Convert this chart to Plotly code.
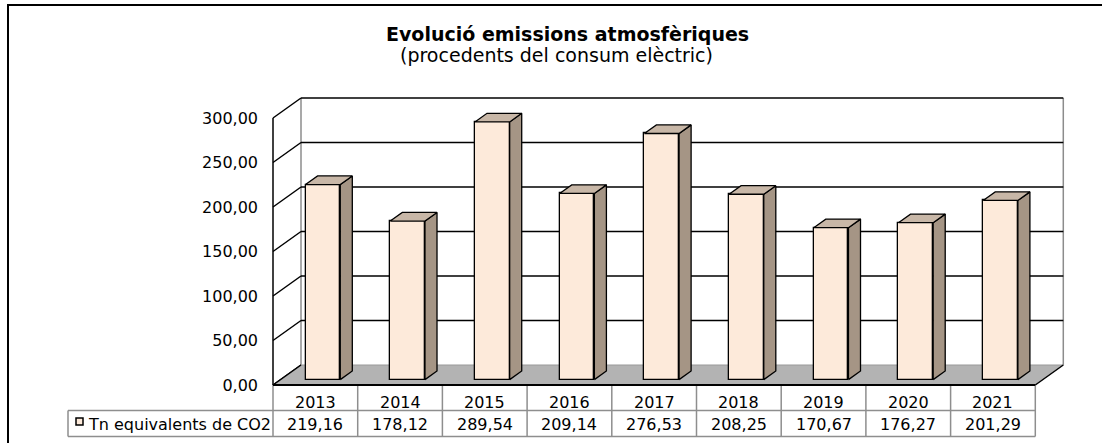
import plotly.graph_objects as go

# ---------------- data ----------------
YEARS = ["2013", "2014", "2015", "2016", "2017", "2018", "2019", "2020", "2021"]
EMISSIONS = [219.16, 178.12, 289.54, 209.14, 276.53, 208.25, 170.67, 176.27, 201.29]
SERIES_NAME = "Tn equivalents de CO2"
Y_TICKS = [0, 50, 100, 150, 200, 250, 300]
TITLE = "Evolució emissions atmosfèriques"
SUBTITLE = "(procedents del consum elèctric)"

# ---------------- geometry / style ----------------
W, H = 1102, 443
PX_CAT = 84.7          # pixels per category
PX_UNIT = 0.89         # pixels per value unit
FRONT_LEFT_PX = 273    # pixel x of left front edge
FLOOR_PX = 385         # pixel y of value 0 on the front plane
PLOT_L, PLOT_R, PLOT_T, PLOT_B = 60, 1070, 90, 441
DX = 28 / PX_CAT       # depth offset (categories)
DY = 20 / PX_UNIT      # depth offset (value units)
F0, F1 = 0.27, 0.70    # bar depth fractions
BAR_W = 0.41
FONT = "DejaVu Sans"
FS = 16

FACE = "#FDEADA"
TOP = "#C8B7A7"
SIDE = "#A59585"
FLOOR = "#B3B3B3"
GRID = "#000000"
TABLE_LINE = "#8E8E8E"

n = len(YEARS)
XL, XR = -0.5, n - 0.5
YTOP = max(Y_TICKS)

x_min = XL - (FRONT_LEFT_PX - PLOT_L) / PX_CAT
x_max = XL + (PLOT_R - FRONT_LEFT_PX) / PX_CAT
y_min = -(PLOT_B - FLOOR_PX) / PX_UNIT
y_max = (FLOOR_PX - PLOT_T) / PX_UNIT


def px_x(px):
    return XL + (px - FRONT_LEFT_PX) / PX_CAT


def px_y(py):
    return (FLOOR_PX - py) / PX_UNIT


def paper_x(px):
    return (px - PLOT_L) / (PLOT_R - PLOT_L)


def paper_y(py):
    return (PLOT_B - py) / (PLOT_B - PLOT_T)


shapes = []


def line(x0, y0, x1, y1, color, width=1.5):
    shapes.append(dict(type="line", x0=x0, y0=y0, x1=x1, y1=y1, xref="x", yref="y",
                       line=dict(color=color, width=width), layer="below"))


def poly(pts, fill):
    path = "M " + " L ".join(f"{x},{y}" for x, y in pts) + " Z"
    shapes.append(dict(type="path", path=path, xref="x", yref="y",
                       fillcolor=fill, line=dict(color=fill, width=0), layer="below"))


# back wall & side wall
poly([(XL + DX, DY), (XR + DX, DY), (XR + DX, YTOP + DY), (XL + DX, YTOP + DY)], "white")
poly([(XL, 0), (XL + DX, DY), (XL + DX, YTOP + DY), (XL, YTOP)], "white")
line(XL + DX, DY, XL + DX, YTOP + DY, "#8C8C8C", 1.5)
line(XR + DX, DY, XR + DX, YTOP + DY, "#8C8C8C", 1.5)
for v in Y_TICKS:
    if v > 0:
        line(XL + DX, v + DY, XR + DX, v + DY, GRID, 1.5)
    line(XL, v, XL + DX, v + DY, GRID, 1.5)
line(XL, 0, XL, YTOP, GRID, 1.5)

# floor
poly([(XL, 0), (XR, 0), (XR + DX, DY), (XL + DX, DY)], FLOOR)
line(XL + DX, DY, XR + DX, DY, "#999999", 1)
line(XL, 0, XL + DX, DY, GRID, 1.5)
line(XR, 0, XR + DX, DY, GRID, 1.5)

# data table
R1 = px_y(410.5)
R2 = px_y(436.5)
LEG_L = px_x(68)
for k in range(n + 1):
    line(XL + k, 0, XL + k, R2, TABLE_LINE, 1.5)
line(LEG_L, R1, XR, R1, TABLE_LINE, 1.5)
line(LEG_L, R2, XR, R2, TABLE_LINE, 1.5)
line(LEG_L, R1, LEG_L, R2, TABLE_LINE, 1.5)
line(XL, 0, XR, 0, GRID, 2)

# legend swatch
shapes.append(dict(type="rect", xref="x", yref="y",
                   x0=px_x(76), x1=px_x(83), y0=px_y(418), y1=px_y(425),
                   fillcolor=FACE, line=dict(color="black", width=1.5), layer="above"))

# outer frame
shapes.append(dict(type="rect", xref="paper", yref="paper",
                   x0=paper_x(8), x1=paper_x(1120), y0=paper_y(460), y1=paper_y(5),
                   line=dict(color="black", width=2), fillcolor="rgba(0,0,0,0)", layer="above"))

fig = go.Figure()

# bar front faces
fig.add_trace(go.Bar(
    x=[i + F0 * DX for i in range(n)], y=EMISSIONS, base=F0 * DY, width=BAR_W,
    marker=dict(color=FACE, line=dict(color="black", width=1.3)),
    name=SERIES_NAME, showlegend=False, hoverinfo="skip"))

# top and side faces
d = (F1 - F0) * DX
e = (F1 - F0) * DY
tx, ty, sx, sy = [], [], [], []
for i, v in enumerate(EMISSIONS):
    x0 = i + F0 * DX - BAR_W / 2
    x1 = i + F0 * DX + BAR_W / 2
    yb = F0 * DY
    yt = v + F0 * DY
    tx += [x0, x1, x1 + d, x0 + d, x0, None]
    ty += [yt, yt, yt + e, yt + e, yt, None]
    sx += [x1, x1 + d, x1 + d, x1, x1, None]
    sy += [yb, yb + e, yt + e, yt, yb, None]
fig.add_trace(go.Scatter(x=sx, y=sy, mode="lines", fill="toself", fillcolor=SIDE,
                         line=dict(color="black", width=1.3), showlegend=False, hoverinfo="skip"))
fig.add_trace(go.Scatter(x=tx, y=ty, mode="lines", fill="toself", fillcolor=TOP,
                         line=dict(color="black", width=1.3), showlegend=False, hoverinfo="skip"))

annotations = []
yr_y = px_y(402)
val_y = px_y(424)
for i, (yr, v) in enumerate(zip(YEARS, EMISSIONS)):
    annotations.append(dict(x=i, y=yr_y, xref="x", yref="y", text=yr, showarrow=False,
                            xanchor="center", yanchor="middle",
                            font=dict(family=FONT, size=FS, color="black")))
    annotations.append(dict(x=i, y=val_y, xref="x", yref="y",
                            text=f"{v:.2f}".replace(".", ","), showarrow=False,
                            xanchor="center", yanchor="middle",
                            font=dict(family=FONT, size=FS, color="black")))
annotations.append(dict(x=px_x(86), y=val_y, xref="x", yref="y", text=SERIES_NAME,
                        xanchor="left", yanchor="middle", showarrow=False,
                        font=dict(family=FONT, size=FS, color="black")))
annotations.append(dict(x=paper_x(567), y=paper_y(34), xref="paper", yref="paper",
                        text=f"<b>{TITLE}</b>", showarrow=False,
                        xanchor="center", yanchor="middle",
                        font=dict(family=FONT, size=19, color="black")))
annotations.append(dict(x=paper_x(556), y=paper_y(55), xref="paper", yref="paper",
                        text=SUBTITLE, showarrow=False,
                        xanchor="center", yanchor="middle",
                        font=dict(family=FONT, size=19, color="black")))

fig.update_layout(
    width=W, height=H,
    margin=dict(l=PLOT_L, r=W - PLOT_R, t=PLOT_T, b=H - PLOT_B),
    paper_bgcolor="white", plot_bgcolor="rgba(0,0,0,0)",
    separators=",.",
    shapes=shapes, annotations=annotations,
    xaxis=dict(range=[x_min, x_max], visible=False, fixedrange=True),
    yaxis=dict(range=[y_min, y_max], anchor="free",
               position=paper_x(FRONT_LEFT_PX),
               tickvals=Y_TICKS, tickformat=".2f", showgrid=False, zeroline=False,
               showline=False, ticks="", ticklabelstandoff=15,
               tickfont=dict(family=FONT, size=FS, color="black"), fixedrange=True),
    bargap=0,
)

fig.write_html("out.html", config={"displayModeBar": False},
               post_script="document.body.style.margin='0px';")
